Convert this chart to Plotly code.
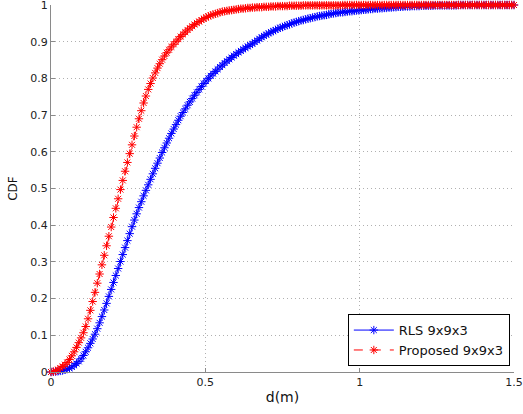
import plotly.graph_objects as go

# x grid (d in metres)
d_m = [
    0, 0.0075, 0.015, 0.0225, 0.03, 0.0375, 0.045, 0.0525, 0.06, 0.0675, 0.075, 0.0825, 0.09, 0.0975, 0.105, 0.1125, 0.12, 0.1275, 0.135, 0.1425,
    0.15, 0.1575, 0.165, 0.1725, 0.18, 0.1875, 0.195, 0.2025, 0.21, 0.2175, 0.225, 0.2325, 0.24, 0.2475, 0.255, 0.2625, 0.27, 0.2775, 0.285, 0.2925,
    0.3, 0.3075, 0.315, 0.3225, 0.33, 0.3375, 0.345, 0.3525, 0.36, 0.3675, 0.375, 0.3825, 0.39, 0.3975, 0.405, 0.4125, 0.42, 0.4275, 0.435, 0.4425,
    0.45, 0.4575, 0.465, 0.4725, 0.48, 0.4875, 0.495, 0.5025, 0.51, 0.5175, 0.525, 0.5325, 0.54, 0.5475, 0.555, 0.5625, 0.57, 0.5775, 0.585, 0.5925,
    0.6, 0.6075, 0.615, 0.6225, 0.63, 0.6375, 0.645, 0.6525, 0.66, 0.6675, 0.675, 0.6825, 0.69, 0.6975, 0.705, 0.7125, 0.72, 0.7275, 0.735, 0.7425,
    0.75, 0.7575, 0.765, 0.7725, 0.78, 0.7875, 0.795, 0.8025, 0.81, 0.8175, 0.825, 0.8325, 0.84, 0.8475, 0.855, 0.8625, 0.87, 0.8775, 0.885, 0.8925,
    0.9, 0.9075, 0.915, 0.9225, 0.93, 0.9375, 0.945, 0.9525, 0.96, 0.9675, 0.975, 0.9825, 0.99, 0.9975, 1.005, 1.0125, 1.02, 1.0275, 1.035, 1.0425,
    1.05, 1.0575, 1.065, 1.0725, 1.08, 1.0875, 1.095, 1.1025, 1.11, 1.1175, 1.125, 1.1325, 1.14, 1.1475, 1.155, 1.1625, 1.17, 1.1775, 1.185, 1.1925,
    1.2, 1.2075, 1.215, 1.2225, 1.23, 1.2375, 1.245, 1.2525, 1.26, 1.2675, 1.275, 1.2825, 1.29, 1.2975, 1.305, 1.3125, 1.32, 1.3275, 1.335, 1.3425,
    1.35, 1.3575, 1.365, 1.3725, 1.38, 1.3875, 1.395, 1.4025, 1.41, 1.4175, 1.425, 1.4325, 1.44, 1.4475, 1.455, 1.4625, 1.47, 1.4775, 1.485, 1.4925,
    1.5,
]

cdf_rls = [
    0.000, 0.0005, 0.001, 0.002, 0.003, 0.004, 0.006, 0.008, 0.010, 0.014, 0.018, 0.023, 0.029, 0.036, 0.045, 0.055, 0.066, 0.078, 0.090, 0.103,
    0.118, 0.134, 0.151, 0.169, 0.187, 0.206, 0.225, 0.244, 0.263, 0.282, 0.301, 0.320, 0.339, 0.358, 0.377, 0.396, 0.414, 0.431, 0.448, 0.464,
    0.480, 0.495, 0.510, 0.525, 0.540, 0.555, 0.569, 0.583, 0.598, 0.611, 0.624, 0.637, 0.650, 0.662, 0.674, 0.686, 0.697, 0.707, 0.717, 0.727,
    0.736, 0.745, 0.754, 0.762, 0.770, 0.778, 0.786, 0.793, 0.800, 0.807, 0.813, 0.819, 0.825, 0.831, 0.836, 0.842, 0.847, 0.852, 0.857, 0.862,
    0.866, 0.871, 0.875, 0.879, 0.883, 0.887, 0.891, 0.894, 0.899, 0.903, 0.908, 0.912, 0.916, 0.919, 0.923, 0.926, 0.929, 0.932, 0.935, 0.938,
    0.940, 0.943, 0.945, 0.947, 0.950, 0.952, 0.954, 0.956, 0.958, 0.959, 0.961, 0.963, 0.964, 0.966, 0.967, 0.969, 0.970, 0.971, 0.972, 0.973,
    0.975, 0.976, 0.977, 0.978, 0.979, 0.980, 0.980, 0.981, 0.982, 0.983, 0.983, 0.984, 0.985, 0.985, 0.986, 0.987, 0.987, 0.988, 0.989, 0.989,
    0.990, 0.990, 0.991, 0.991, 0.992, 0.992, 0.993, 0.993, 0.994, 0.994, 0.995, 0.995, 0.995, 0.996, 0.996, 0.996, 0.997, 0.997, 0.997, 0.997,
    0.998, 0.998, 0.998, 0.998, 0.998, 0.998, 0.999, 0.999, 0.999, 0.999, 0.999, 0.999, 0.999, 0.999, 0.999, 0.999, 1.000, 1.000, 1.000, 1.000,
    1.000, 1.000, 1.000, 1.000, 1.000, 1.000, 1.000, 1.000, 1.000, 1.000, 1.000, 1.000, 1.000, 1.000, 1.000, 1.000, 1.000, 1.000, 1.000, 1.000,
    1.000,
]

cdf_proposed = [
    0.000, 0.001, 0.003, 0.006, 0.011, 0.015, 0.020, 0.026, 0.034, 0.044, 0.055, 0.067, 0.080, 0.093, 0.107, 0.124, 0.145, 0.168, 0.192, 0.217,
    0.242, 0.267, 0.292, 0.318, 0.344, 0.370, 0.395, 0.421, 0.446, 0.472, 0.497, 0.522, 0.547, 0.571, 0.595, 0.619, 0.643, 0.667, 0.690, 0.712,
    0.733, 0.752, 0.770, 0.786, 0.801, 0.815, 0.828, 0.840, 0.851, 0.861, 0.870, 0.878, 0.886, 0.893, 0.900, 0.907, 0.914, 0.920, 0.926, 0.932,
    0.937, 0.942, 0.947, 0.951, 0.955, 0.959, 0.963, 0.966, 0.969, 0.972, 0.974, 0.976, 0.978, 0.980, 0.982, 0.983, 0.984, 0.985, 0.986, 0.987,
    0.988, 0.989, 0.990, 0.990, 0.991, 0.992, 0.992, 0.993, 0.993, 0.994, 0.994, 0.994, 0.995, 0.995, 0.995, 0.996, 0.996, 0.996, 0.997, 0.997,
    0.997, 0.997, 0.997, 0.998, 0.998, 0.998, 0.998, 0.998, 0.998, 0.999, 0.999, 0.999, 0.999, 0.999, 0.999, 0.999, 0.999, 0.999, 0.999, 0.999,
    0.999, 0.999, 0.999, 0.999, 0.999, 0.999, 1.000, 1.000, 1.000, 1.000, 1.000, 1.000, 1.000, 1.000, 1.000, 1.000, 1.000, 1.000, 1.000, 1.000,
    1.000, 1.000, 1.000, 1.000, 1.000, 1.000, 1.000, 1.000, 1.000, 1.000, 1.000, 1.000, 1.000, 1.000, 1.000, 1.000, 1.000, 1.000, 1.000, 1.000,
    1.000, 1.000, 1.000, 1.000, 1.000, 1.000, 1.000, 1.000, 1.000, 1.000, 1.000, 1.000, 1.000, 1.000, 1.000, 1.000, 1.000, 1.000, 1.000, 1.000,
    1.000, 1.000, 1.000, 1.000, 1.000, 1.000, 1.000, 1.000, 1.000, 1.000, 1.000, 1.000, 1.000, 1.000, 1.000, 1.000, 1.000, 1.000, 1.000, 1.000,
    1.000,
]

series_names = ["RLS 9x9x3", "Proposed 9x9x3"]
x_ticks = [0, 0.5, 1, 1.5]
y_ticks = [0, 0.1, 0.2, 0.3, 0.4, 0.5, 0.6, 0.7, 0.8, 0.9, 1]
y_tick_text = ["0", "0.1", "0.2", "0.3", "0.4", "0.5", "0.6", "0.7", "0.8", "0.9", "1"]
x_tick_text = ["0", "0.5", "1", "1.5"]

assert len(d_m) == len(cdf_rls) == len(cdf_proposed)

BLUE = "#0000ff"
RED = "#ff0000"
AXIS = "#8a8a8a"
GRID = "#b0b0b0"
FONT = "DejaVu Sans, Liberation Sans, Arial, sans-serif"

fig = go.Figure()
fig.add_trace(go.Scatter(
    x=d_m, y=cdf_rls, mode="lines+markers", name=series_names[0],
    line=dict(color=BLUE, width=1),
    marker=dict(symbol="asterisk-open", size=7, color=BLUE, line=dict(color=BLUE, width=1)),
    cliponaxis=False,
))
fig.add_trace(go.Scatter(
    x=d_m, y=cdf_proposed, mode="lines+markers", name=series_names[1],
    line=dict(color=RED, width=1, dash="dash"),
    marker=dict(symbol="asterisk-open", size=7, color=RED, line=dict(color=RED, width=1)),
    cliponaxis=False,
))

fig.update_layout(
    width=523, height=414,
    margin=dict(l=51, r=9, t=5, b=42, autoexpand=False),
    paper_bgcolor="white", plot_bgcolor="white",
    font=dict(family=FONT, size=11, color="#222222"),
    showlegend=True,
    legend=dict(
        x=0.991, y=0.016, xanchor="right", yanchor="bottom",
        bgcolor="white", bordercolor="#000000", borderwidth=1,
        font=dict(family=FONT, size=13, color="#111111"),
        tracegroupgap=0, itemwidth=40,
    ),
    xaxis=dict(
        range=[0, 1.5], tickvals=x_ticks, ticktext=x_tick_text,
        showgrid=True, gridcolor=GRID, griddash="1px,3px", gridwidth=1,
        showline=True, linecolor=AXIS, linewidth=1,
        ticks="inside", ticklen=4, tickcolor=AXIS,
        zeroline=False, automargin=False, ticklabeloverflow="allow",
        tickfont=dict(size=11),
        title=dict(text="d(m)", font=dict(size=14, family=FONT, color="#111111"), standoff=3),
    ),
    yaxis=dict(
        range=[0, 1], tickvals=y_ticks, ticktext=y_tick_text,
        showgrid=True, gridcolor=GRID, griddash="1px,3px", gridwidth=1,
        showline=True, linecolor=AXIS, linewidth=1,
        ticks="inside", ticklen=4, tickcolor=AXIS,
        zeroline=False, automargin=False, ticklabeloverflow="allow",
        tickfont=dict(size=11),
        title=dict(text="CDF", font=dict(size=12, family=FONT, color="#111111"), standoff=10),
    ),
)

fig.write_html(
    "out.html",
    config={"displayModeBar": False},
    post_script="document.body.style.margin='0px';",
)
